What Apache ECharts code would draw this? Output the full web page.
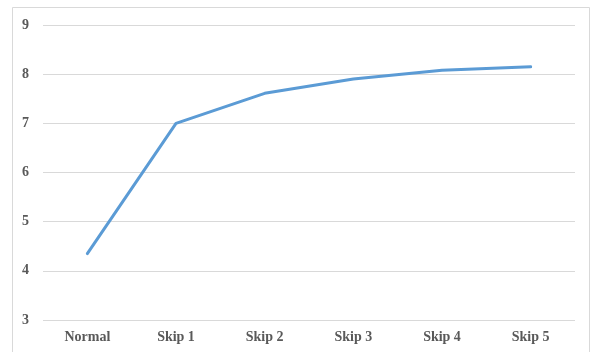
<!DOCTYPE html>
<html>
<head>
<meta charset="utf-8">
<script src="https://cdn.jsdelivr.net/npm/echarts@6/dist/echarts.min.js"></script>
<style>
  html, body { margin: 0; padding: 0; background: #fff; }
  #chart { width: 592px; height: 352px; }
</style>
</head>
<body>
<div id="chart"></div>
<script>
const categories = ['Normal', 'Skip 1', 'Skip 2', 'Skip 3', 'Skip 4', 'Skip 5'];
const values = [4.35, 7.0, 7.61, 7.9, 8.08, 8.15];

const chart = echarts.init(document.getElementById('chart'));
const labelFont = {
  fontFamily: '"Liberation Serif", "Times New Roman", serif',
  fontWeight: 'bold',
  fontSize: 14,
  color: '#595959'
};

chart.setOption({
  animation: false,
  backgroundColor: '#ffffff',
  graphic: [{
    type: 'rect',
    shape: { x: 12.5, y: 7.5, width: 577, height: 350 },
    style: { fill: 'none', stroke: '#d9d9d9', lineWidth: 1 },
    silent: true
  }],
  grid: { left: 43, right: 17, top: 25, bottom: 32 },
  xAxis: {
    type: 'category',
    data: categories,
    boundaryGap: true,
    axisLine: { show: false },
    axisTick: { show: false },
    axisLabel: Object.assign({ margin: 10 }, labelFont)
  },
  yAxis: {
    type: 'value',
    min: 3,
    max: 9,
    interval: 1,
    axisLine: { show: false },
    axisTick: { show: false },
    axisLabel: Object.assign({ margin: 14 }, labelFont),
    splitLine: { lineStyle: { color: '#d9d9d9', width: 1 } }
  },
  series: [{
    type: 'line',
    data: values,
    symbol: 'none',
    lineStyle: { color: '#5b9bd5', width: 3, cap: 'round', join: 'round' }
  }]
});
</script>
</body>
</html>
